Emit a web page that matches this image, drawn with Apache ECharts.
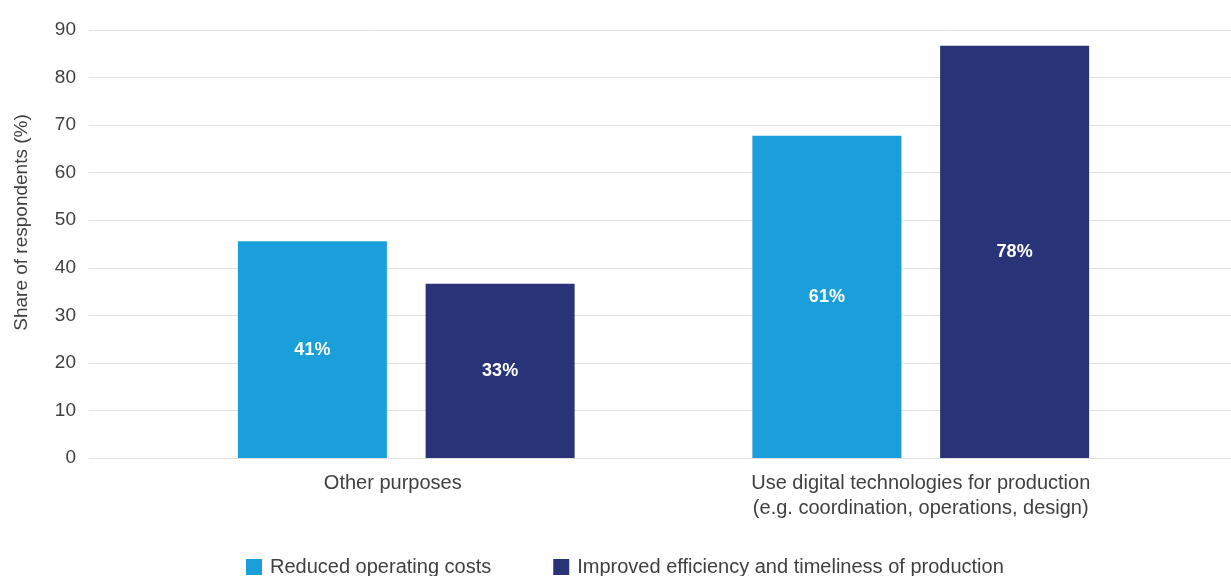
<!DOCTYPE html>
<html>
<head>
<meta charset="utf-8">
<script src="https://cdn.jsdelivr.net/npm/echarts@6/dist/echarts.min.js"></script>
<style>
  html, body { margin: 0; padding: 0; background: #ffffff; }
  #chart { width: 1231px; height: 576px; }
</style>
</head>
<body>
<div id="chart"></div>
<script>
// Survey shares by purpose of digital technology use
const categories = ['Other purposes', 'Use digital technologies for production\n(e.g. coordination, operations, design)'];
const seriesNames = ['Reduced operating costs', 'Improved efficiency and timeliness of production'];
const reducedCosts = [41, 61];
const improvedEfficiency = [33, 78];
const tickLabels = ['0', '10', '20', '30', '40', '50', '60', '70', '80', '90'];

// Value-axis extent; the printed tick labels run 0..90 across it
const axisMax = 81;
const axisInterval = axisMax / (tickLabels.length - 1);

const textColor = '#404040';
const fontFamily = '"Helvetica Neue", Helvetica, Arial, "Liberation Sans", sans-serif';

const chart = echarts.init(document.getElementById('chart'), null, { renderer: 'canvas' });

function barLabel() {
  return {
    show: true,
    position: 'inside',
    formatter: '{c}%',
    color: '#ffffff',
    fontWeight: 'bold',
    fontSize: 18
  };
}

chart.setOption({
  animation: false,
  textStyle: { fontFamily: fontFamily },
  grid: [
    // frame for the value axis and its gridlines
    { left: 89, right: 0, top: 30, height: 428 },
    // frame holding the category groups
    { left: 149, width: 1029, top: 30, height: 428 }
  ],
  legend: {
    data: seriesNames,
    left: 241,
    top: 552,
    icon: 'rect',
    itemWidth: 16,
    itemHeight: 16,
    itemGap: 62,
    textStyle: { fontSize: 20, color: textColor, padding: [0, 0, 0, 3] }
  },
  xAxis: [
    { gridIndex: 0, type: 'category', data: [], show: false },
    {
      gridIndex: 1,
      type: 'category',
      data: categories,
      axisLine: { show: false },
      axisTick: { show: false },
      axisLabel: {
        margin: 13,
        fontSize: 20,
        lineHeight: 25,
        color: textColor,
        formatter: function (v, i) {
          return i === 0 ? '{first|' + v + '}' : v;
        },
        rich: {
          first: { fontSize: 20, lineHeight: 25, color: textColor, padding: [0, 27, 0, 0] }
        }
      }
    }
  ],
  yAxis: [
    {
      gridIndex: 0,
      type: 'value',
      min: 0,
      max: axisMax,
      interval: axisInterval,
      name: 'Share of respondents (%)',
      nameLocation: 'middle',
      nameRotate: 90,
      nameGap: 58,
      nameTextStyle: { fontSize: 19, color: textColor, padding: [0, 0, 0, 43] },
      axisLine: { show: false },
      axisTick: { show: false },
      axisLabel: {
        margin: 13,
        fontSize: 19,
        color: textColor,
        formatter: function (v) { return tickLabels[Math.round(v / axisInterval)]; }
      },
      splitLine: { lineStyle: { color: '#e0e0e0', width: 1 } }
    },
    {
      gridIndex: 1,
      type: 'value',
      min: 0,
      max: axisMax,
      interval: axisInterval,
      show: false,
      splitLine: { show: false }
    }
  ],
  series: [
    {
      name: seriesNames[0],
      type: 'bar',
      xAxisIndex: 1,
      yAxisIndex: 1,
      data: reducedCosts,
      barWidth: 149,
      barGap: '26%',
      itemStyle: { color: '#1a9fda' },
      label: barLabel()
    },
    {
      name: seriesNames[1],
      type: 'bar',
      xAxisIndex: 1,
      yAxisIndex: 1,
      data: improvedEfficiency,
      barWidth: 149,
      barGap: '26%',
      itemStyle: { color: '#283477' },
      label: barLabel()
    }
  ]
});
</script>
</body>
</html>
